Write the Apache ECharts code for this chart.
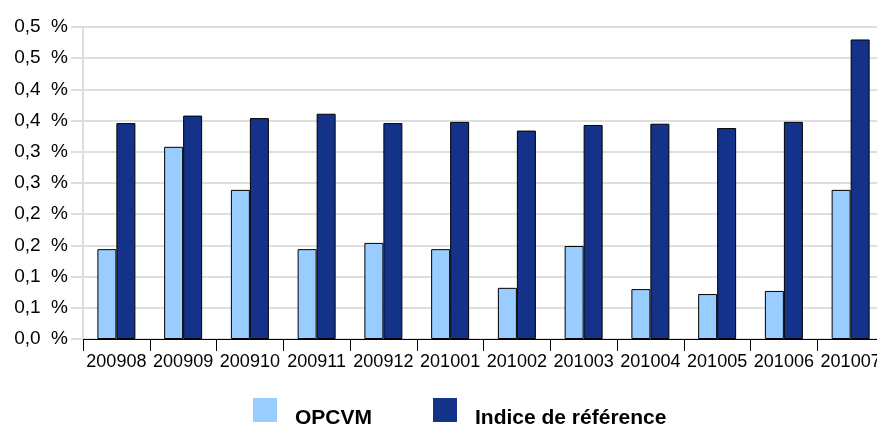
<!DOCTYPE html>
<html>
<head>
<meta charset="utf-8">
<script src="https://cdn.jsdelivr.net/npm/echarts@6/dist/echarts.min.js"></script>
<style>html,body{margin:0;padding:0;background:#fff}#c{width:877px;height:427px}</style>
</head>
<body>
<div id="c"></div>
<script>
var categories = ['200908','200909','200910','200911','200912','201001','201002','201003','201004','201005','201006','201007'];
var opcvm = [0.144, 0.308, 0.239, 0.144, 0.154, 0.144, 0.082, 0.149, 0.080, 0.072, 0.077, 0.239];
var indice = [0.346, 0.358, 0.354, 0.361, 0.346, 0.348, 0.334, 0.343, 0.345, 0.338, 0.348, 0.480];
var seriesNames = ['OPCVM', 'Indice de référence'];

function fmt(v) {
  var n = Math.round(v * 100);
  var t = Math.round(n / 10);
  return (t / 10).toFixed(1).replace('.', ',') + '  %';
}

var chart = echarts.init(document.getElementById('c'), null, {renderer: 'canvas'});
var font = 'Liberation Sans, Arial, sans-serif';
chart.setOption({
  animation: false,
  textStyle: {fontFamily: font},
  grid: {left: 83, width: 801, top: 27, bottom: 88, containLabel: false, outerBoundsMode: 'none'},
  legend: {
    left: 253, top: 398, padding: 0,
    itemWidth: 24, itemHeight: 24, itemGap: 61,
    icon: 'rect',
    itemStyle: {borderWidth: 0},
    formatter: function (name) { return '{t|' + name + '}'; },
    textStyle: {
      fontSize: 21, fontWeight: 'bold', color: '#000', fontFamily: font, padding: [0, 0, 0, 13],
      rich: {t: {fontSize: 21, fontWeight: 'bold', color: '#000', fontFamily: font, padding: [16, 0, 0, 0]}}
    },
    data: seriesNames
  },
  xAxis: {
    type: 'category',
    data: categories,
    axisLine: {lineStyle: {color: '#000', width: 1}},
    axisTick: {show: true, length: 12, lineStyle: {color: '#000'}},
    axisLabel: {fontSize: 18, color: '#000', margin: 14, interval: 0, fontFamily: font},
    splitLine: {show: false}
  },
  yAxis: {
    type: 'value',
    min: 0, max: 0.5, interval: 0.05,
    axisLine: {show: true, lineStyle: {color: '#dedede', width: 2}},
    axisTick: {show: true, length: 12, lineStyle: {color: '#dedede', width: 2}},
    axisLabel: {fontSize: 19, color: '#000', margin: 15, formatter: fmt, fontFamily: font},
    splitLine: {show: true, lineStyle: {color: '#dedede', width: 2}}
  },
  series: [
    {name: seriesNames[0], type: 'bar', data: opcvm, barWidth: 19, barGap: '0%',
     itemStyle: {color: '#99ccff', borderColor: '#000', borderWidth: 1}},
    {name: seriesNames[1], type: 'bar', data: indice, barWidth: 19, barGap: '0%',
     itemStyle: {color: '#14328a', borderColor: '#000', borderWidth: 1}}
  ]
});
</script>
</body>
</html>
